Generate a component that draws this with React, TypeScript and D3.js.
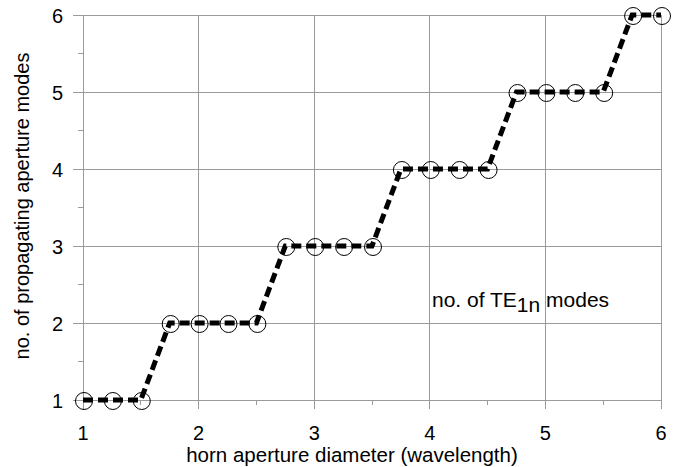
import { useEffect, useRef } from 'react'
import * as d3 from 'd3'

// horn aperture diameter (wavelength) and propagating TE1n mode count
const diameters = [1, 1.25, 1.5, 1.75, 2, 2.25, 2.5, 2.75, 3, 3.25, 3.5, 3.75, 4, 4.25, 4.5, 4.75, 5, 5.25, 5.5, 5.75, 6]
const modes = [1, 1, 1, 2, 2, 2, 2, 3, 3, 3, 3, 4, 4, 4, 4, 5, 5, 5, 5, 6, 6]
const xTicks = [1, 2, 3, 4, 5, 6]
const yTicks = [1, 2, 3, 4, 5, 6]
const minorTicks = [1.5, 2.5, 3.5, 4.5, 5.5]

const W = 694
const H = 467
const FONT = '"Liberation Sans", Arial, sans-serif'

export default function App() {
  const ref = useRef<SVGSVGElement>(null)

  useEffect(() => {
    const svg = d3.select(ref.current)
    svg.selectAll('*').remove()

    const x = d3.scaleLinear().domain([1, 6]).range([83, 661])
    const y = d3.scaleLinear().domain([1, 6]).range([400, 15])
    const grey = '#9a9a9a'

    // grid + ticks
    const grid = svg.append('g').attr('stroke', grey).attr('stroke-width', 1).attr('shape-rendering', 'crispEdges')
    grid.selectAll('line.v').data(xTicks).join('line')
      .attr('class', 'v')
      .attr('x1', d => x(d)).attr('x2', d => x(d)).attr('y1', y(6)).attr('y2', y(1) + 9)
    grid.selectAll('line.h').data(yTicks).join('line')
      .attr('class', 'h')
      .attr('x1', x(1) - 10).attr('x2', x(6)).attr('y1', d => y(d)).attr('y2', d => y(d))
    grid.selectAll('line.mx').data(minorTicks).join('line')
      .attr('class', 'mx')
      .attr('x1', d => x(d)).attr('x2', d => x(d)).attr('y1', y(1)).attr('y2', y(1) + 5)
    grid.selectAll('line.my').data(minorTicks).join('line')
      .attr('class', 'my')
      .attr('x1', x(1) - 5).attr('x2', x(1)).attr('y1', d => y(d)).attr('y2', d => y(d))

    // tick labels
    svg.append('g').selectAll('text').data(xTicks).join('text')
      .attr('x', d => x(d)).attr('y', 440)
      .attr('text-anchor', 'middle')
      .style('font', `20px ${FONT}`)
      .text(d => d)
    svg.append('g').selectAll('text').data(yTicks).join('text')
      .attr('x', 63).attr('y', d => y(d) + 7.5)
      .attr('text-anchor', 'end')
      .style('font', `20px ${FONT}`)
      .text(d => d)

    // axis titles
    svg.append('text')
      .attr('x', 352).attr('y', 462)
      .attr('text-anchor', 'middle')
      .style('font', `20.5px ${FONT}`)
      .text('horn aperture diameter (wavelength)')
    svg.append('text')
      .attr('transform', 'translate(29,206) rotate(-90)')
      .attr('text-anchor', 'middle')
      .style('font', `20px ${FONT}`)
      .text('no. of propagating aperture modes')

    const pts = diameters.map((d, i) => [d, modes[i]] as [number, number])

    // markers
    svg.append('g').selectAll('circle').data(pts).join('circle')
      .attr('cx', d => x(d[0]) + 1).attr('cy', d => y(d[1]) + 1)
      .attr('r', 8.5)
      .attr('fill', 'none').attr('stroke', '#000').attr('stroke-width', 1)

    // dashed step line
    const line = d3.line<[number, number]>().x(d => x(d[0])).y(d => y(d[1]))
    svg.append('path')
      .attr('d', line(pts))
      .attr('fill', 'none')
      .attr('stroke', '#000')
      .attr('stroke-width', 5)
      .attr('stroke-dasharray', '10,5')

    // annotation
    const note = svg.append('text')
      .attr('x', 432).attr('y', 307)
      .style('font', `21px ${FONT}`)
    note.append('tspan').text('no. of TE')
    note.append('tspan').attr('dy', 5).text('1n')
    note.append('tspan').attr('dy', -5).text(' modes')
  }, [])

  return <svg ref={ref} width={W} height={H} style={{ display: 'block', position: 'absolute', left: 0, top: 0, background: '#fff' }} />
}
